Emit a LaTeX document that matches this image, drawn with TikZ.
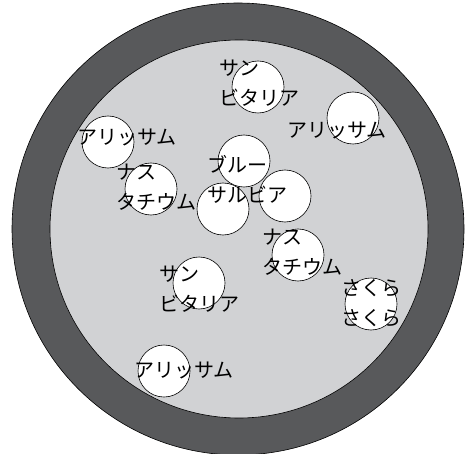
\documentclass[tikz,border=0pt]{standalone}
\usepackage{fontspec}
\newfontfamily\jp{Noto Sans CJK JP}
\definecolor{ringgray}{RGB}{88,89,91}
\definecolor{bedgray}{RGB}{209,210,212}

\begin{document}
\begin{tikzpicture}[x=1pt,y=-1pt,line width=0.6pt,
    flower/.style={circle,draw,fill=white,minimum size=52pt,inner sep=0pt},
    plantname/.style={anchor=west,align=left,inner sep=0pt,
      font=\jp\fontsize{20}{30}\selectfont}]
  \useasboundingbox (0,0) rectangle (465,454);
  \draw[fill=ringgray] (238,229) circle (226);
  \draw[fill=bedgray] (239,229) circle (189);
  \foreach \x/\y [count=\i] in {258/87,353/118,108/142,151/189,244/161,
      223/209,285/196,298/255,199/283,371/304,164/371}
    \node[flower] (f\i) at (\x,\y) {};
  \node[plantname] (sanA) at (219,83) {サン\\ビタリア};
  \node[plantname] (alyB) at (287,130) {アリッサム};
  \node[plantname] (alyC) at (77,137) {アリッサム};
  \node[plantname] (nasD) at (116,187) {ナス\\タチウム};
  \node[plantname] (blue) at (207,179) {ブルー\\サルビア};
  \node[plantname] (nasH) at (262,252) {ナス\\タチウム};
  \node[plantname] (sanI) at (159,289) {サン\\ビタリア};
  \node[plantname] (sakura) at (341,303) {さくら\\さくら};
  \node[plantname] (alyK) at (134,370) {アリッサム};
\end{tikzpicture}
\end{document}
